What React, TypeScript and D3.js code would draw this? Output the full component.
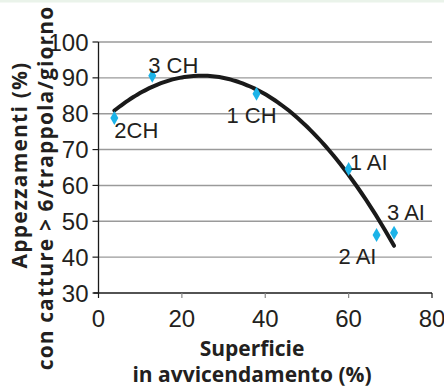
import * as d3 from 'd3';

const labels = ['2CH', '3 CH', '1 CH', '1 AI', '2 AI', '3 AI'];
const superficie = [3.8, 12.9, 37.9, 60, 66.7, 70.9];
const appezzamenti = [78.8, 90.6, 85.6, 64.6, 46.2, 46.8];
// label offsets (px) from each point, start anchored
const labelDx = [0, -4, -30, 1, -38, -7];
const labelDy = [20, -3, 29, 1, 29, -13];

const xTicks = [0, 20, 40, 60, 80];
const yTicks = [30, 40, 50, 60, 70, 80, 90, 100];

const W = 444;
const H = 391;

// order-2 least squares trendline, like a spreadsheet polynomial trendline
function quadFit(xs: number[], ys: number[]) {
  const s = [0, 0, 0, 0, 0];
  const t = [0, 0, 0];
  xs.forEach((x, i) => {
    for (let k = 0; k < 5; k++) s[k] += Math.pow(x, k);
    for (let k = 0; k < 3; k++) t[k] += ys[i] * Math.pow(x, k);
  });
  const m = [
    [s[0], s[1], s[2], t[0]],
    [s[1], s[2], s[3], t[1]],
    [s[2], s[3], s[4], t[2]],
  ];
  for (let c = 0; c < 3; c++) {
    for (let r = c + 1; r < 3; r++) {
      const f = m[r][c] / m[c][c];
      for (let k = c; k < 4; k++) m[r][k] -= f * m[c][k];
    }
  }
  const b = [0, 0, 0];
  for (let r = 2; r >= 0; r--) {
    let v = m[r][3];
    for (let k = r + 1; k < 3; k++) v -= m[r][k] * b[k];
    b[r] = v / m[r][r];
  }
  return (x: number) => b[0] + b[1] * x + b[2] * x * x;
}

export default function App() {
  const x = d3.scaleLinear().domain([0, 80]).range([98.5, 432]);
  const y = d3.scaleLinear().domain([30, 100]).range([293, 42]);

  const fit = quadFit(superficie, appezzamenti);
  const x0 = d3.min(superficie) ?? 0;
  const x1 = d3.max(superficie) ?? 80;
  const curvePts = d3.range(0, 61).map((i) => x0 + ((x1 - x0) * i) / 60);
  const line = d3
    .line<number>()
    .x((d) => x(d))
    .y((d) => y(fit(d)))
    .curve(d3.curveMonotoneX);

  const tickFont = "'Liberation Sans Narrow', 'Liberation Sans', sans-serif";
  const titleFont = "'Open Sans', Lato, sans-serif";

  return (
    <svg
      width={W}
      height={H}
      style={{ position: 'absolute', left: 0, top: 0, background: '#fff' }}
    >
      <rect x={0} y={0} width={W} height={2.5} fill="#eaf3ea" />

      {/* grid */}
      {yTicks
        .filter((v) => v > 30)
        .map((v) => (
          <line
            key={'g' + v}
            x1={x(0)}
            x2={x(80)}
            y1={y(v)}
            y2={y(v)}
            stroke="#9a9a9a"
            strokeWidth={1.4}
          />
        ))}

      {/* axes */}
      <line x1={x(0)} x2={x(0)} y1={y(100)} y2={y(30)} stroke="#1a1a1a" strokeWidth={1.3} />
      <line x1={x(0) - 5} x2={x(80)} y1={y(30)} y2={y(30)} stroke="#1a1a1a" strokeWidth={1.3} />
      {yTicks.map((v) => (
        <g key={'y' + v}>
          <line x1={x(0) - 6} x2={x(0)} y1={y(v)} y2={y(v)} stroke="#1a1a1a" strokeWidth={1.2} />
          <text
            x={x(0) - 10}
            y={y(v)}
            dy="0.36em"
            textAnchor="end"
            fontFamily={tickFont}
            fontSize={24}
            fill="#231f20"
          >
            {v}
          </text>
        </g>
      ))}
      {xTicks.map((v) => (
        <g key={'x' + v}>
          <line
            x1={x(v)}
            x2={x(v)}
            y1={y(30)}
            y2={y(30) + 5}
            stroke={v === 0 || v === 80 ? '#1a1a1a' : '#888'}
            strokeWidth={1.2}
          />
          <text
            x={x(v)}
            y={y(30) + 34}
            textAnchor="middle"
            fontFamily={tickFont}
            fontSize={24}
            fill="#231f20"
          >
            {v}
          </text>
        </g>
      ))}

      {/* trendline */}
      <path
        d={line(curvePts) ?? ''}
        fill="none"
        stroke="#1a1a1a"
        strokeWidth={4}
        strokeLinecap="round"
      />

      {/* points */}
      {superficie.map((sx, i) => {
        const px = x(sx);
        const py = y(appezzamenti[i]);
        return (
          <path
            key={'p' + i}
            d={`M${px},${py - 7}L${px + 4},${py}L${px},${py + 7}L${px - 4},${py}Z`}
            fill="#1cb3e8"
          />
        );
      })}

      {/* labels */}
      {labels.map((l, i) => (
        <text
          key={'l' + i}
          x={x(superficie[i]) + labelDx[i]}
          y={y(appezzamenti[i]) + labelDy[i]}
          fontFamily={tickFont}
          fontSize={22}
          fill="#231f20"
        >
          {l}
        </text>
      ))}

      {/* axis titles */}
      <text
        x={252}
        y={356}
        textAnchor="middle"
        fontFamily={titleFont}
        fontWeight="bold"
        fontSize={21}
        fill="#231f20"
      >
        Superficie
      </text>
      <text
        x={252}
        y={382}
        textAnchor="middle"
        fontFamily={titleFont}
        fontWeight="bold"
        fontSize={21}
        fill="#231f20"
      >
        in avvicendamento (%)
      </text>
      <text
        transform="translate(27,165) rotate(-90)"
        textAnchor="middle"
        fontFamily={titleFont}
        fontWeight="bold"
        fontSize={21}
        letterSpacing={1.2}
        fill="#231f20"
      >
        Appezzamenti (%)
      </text>
      <text
        transform="translate(53,188) rotate(-90)"
        textAnchor="middle"
        fontFamily={titleFont}
        fontWeight="bold"
        fontSize={21}
        letterSpacing={1.1}
        fill="#231f20"
      >
        {'con catture > 6/trappola/giorno'}
      </text>
    </svg>
  );
}
